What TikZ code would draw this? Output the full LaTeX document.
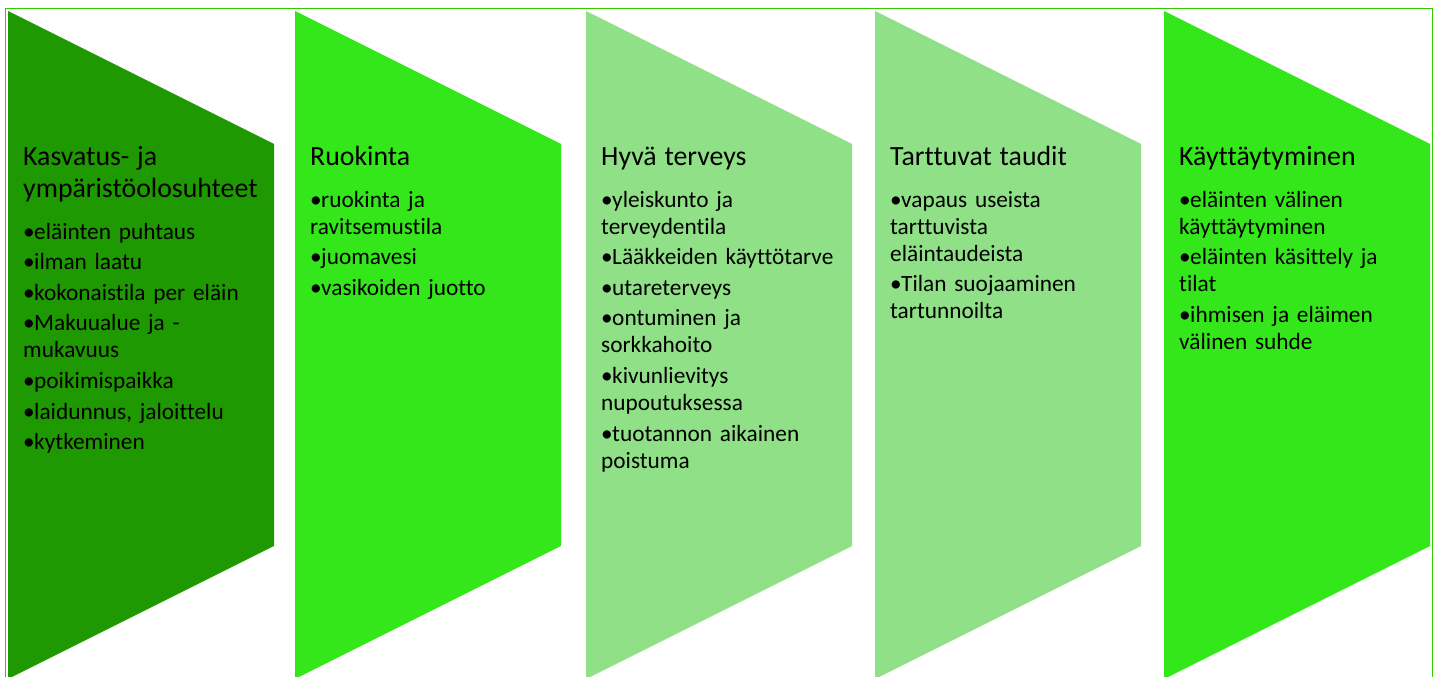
\documentclass[tikz,border=0pt]{standalone}
\usepackage{fontspec}
\setmainfont[Ligatures=NoCommon]{Carlito}
\usepackage{tikz}
\usetikzlibrary{positioning}

\definecolor{tumma}{HTML}{1F9902}
\definecolor{kirkas}{HTML}{33E71A}
\definecolor{vaalea}{HTML}{90E087}
\definecolor{reuna}{HTML}{33CC00}

\setlength{\parindent}{0pt}
\newcommand{\otsikko}[1]{{\fontsize{27.8}{32}\selectfont #1\par}\vspace{10.5pt}}
\newcommand{\kohta}{\par\hangindent=11pt\hangafter=1\noindent\makebox[11pt][l]{\textbullet}}

\begin{document}
\begin{tikzpicture}[x=1pt, y=1pt,
  teksti/.style={anchor=base west, inner sep=0pt, text width=262pt, align=left,
    font=\fontsize{23.3}{27}\selectfont\setlength{\parskip}{3.6pt}}]

\useasboundingbox (0,0) rectangle (1438,677);

% nuolilaatikot
\foreach \x/\c in {8/tumma, 295/kirkas, 586/vaalea, 875/vaalea, 1164/kirkas}
  \fill[\c] (\x,666) -- (\x+266,533) -- (\x+266,131) -- (\x,-2) -- cycle;

\draw[reuna, line width=1.5pt] (5.5,-5) -- (5.5,668.3) -- (1432.3,668.3) -- (1432.3,-5);

\node[teksti] (k1) at (23,511) {\otsikko{Kasvatus- ja\\ympäristöolosuhteet}
  \kohta eläinten puhtaus
  \kohta ilman laatu
  \kohta kokonaistila per eläin
  \kohta Makuualue ja -\\mukavuus
  \kohta poikimispaikka
  \kohta laidunnus, jaloittelu
  \kohta kytkeminen};
\node[teksti] (k2) at (310,511) {\otsikko{Ruokinta}
  \kohta ruokinta ja\\ravitsemustila
  \kohta juomavesi
  \kohta vasikoiden juotto};
\node[teksti] (k3) at (601,511) {\otsikko{Hyvä terveys}
  \kohta yleiskunto ja\\terveydentila
  \kohta Lääkkeiden käyttötarve
  \kohta utareterveys
  \kohta ontuminen ja\\sorkkahoito
  \kohta kivunlievitys\\nupoutuksessa
  \kohta tuotannon aikainen\\poistuma};
\node[teksti] (k4) at (890,511) {\otsikko{Tarttuvat taudit}
  \kohta vapaus useista\\tarttuvista\\eläintaudeista
  \kohta Tilan suojaaminen\\tartunnoilta};
\node[teksti] (k5) at (1179,511) {\otsikko{Käyttäytyminen}
  \kohta eläinten välinen\\käyttäytyminen
  \kohta eläinten käsittely ja\\tilat
  \kohta ihmisen ja eläimen\\välinen suhde};
\end{tikzpicture}
\end{document}
